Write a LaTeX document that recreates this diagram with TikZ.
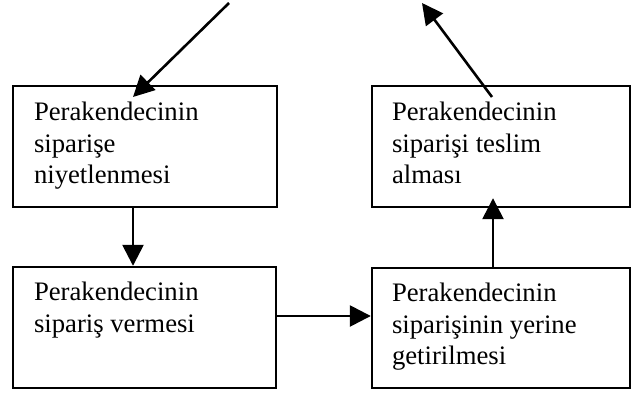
\documentclass[tikz,border=0pt]{standalone}
\usepackage{fontspec}
\setmainfont{Liberation Serif}
\usetikzlibrary{arrows.meta,calc}
% stack of text lines whose reference point is the first baseline
\newcommand{\firstlinestack}[1]{\vtop{\let\\\cr\halign{##\hfil\cr#1\crcr}}}
\begin{document}
\begin{tikzpicture}[x=1pt,y=-1pt,
  box/.style={draw,line width=2.4pt,rectangle,inner sep=0pt},
  boxtext/.style={anchor=base west,inner sep=0pt,
    font=\fontsize{26.7}{31.5}\selectfont},
  flow/.style={line width=2.6pt,-{Triangle[length=21pt,width=21pt]}}]
\useasboundingbox (0,0) rectangle (631,395);
% process boxes
\node[box,minimum width=264pt,minimum height=121pt] (niyet) at (145,146.5) {};
\node[box,minimum width=258pt,minimum height=121pt] (teslim) at (501,146.5) {};
\node[box,minimum width=263pt,minimum height=121pt] (ver) at (144.5,327.5) {};
\node[box,minimum width=258pt,minimum height=120pt] (getir) at (501,328) {};
% box texts
\node[boxtext] (tniyet) at ($(niyet.north west)+(22,36)$)
  {\firstlinestack{Perakendecinin\\sipari\c{s}e\\niyetlenmesi}};
\node[boxtext] (tteslim) at ($(teslim.north west)+(21,36)$)
  {\firstlinestack{Perakendecinin\\sipari\c{s}i teslim\\alması}};
\node[boxtext] (tver) at ($(ver.north west)+(22,35)$)
  {\firstlinestack{Perakendecinin\\sipari\c{s} vermesi}};
\node[boxtext] (tgetir) at ($(getir.north west)+(21,35)$)
  {\firstlinestack{Perakendecinin\\sipari\c{s}inin yerine\\getirilmesi}};
% free ends and guide coordinates
\coordinate (gelen) at (229,3);
\coordinate (gelenuc) at (133,97);
\coordinate (giden) at (422,3);
\coordinate (gidenbas) at (492,97);
\coordinate (xa) at (133,0);
\coordinate (ya) at (0,316);
\coordinate (xb) at (493,0);
% connectors
\draw[flow] (gelen) -- (gelenuc);
\draw[flow] (gidenbas) -- (giden);
\draw[flow] (niyet.south -| xa) -- (ver.north -| xa);
\draw[flow] (ver.east |- ya) -- (getir.west |- ya);
\draw[flow,shorten >=-10pt] (getir.north -| xb) -- (teslim.south -| xb);
\end{tikzpicture}
\end{document}
